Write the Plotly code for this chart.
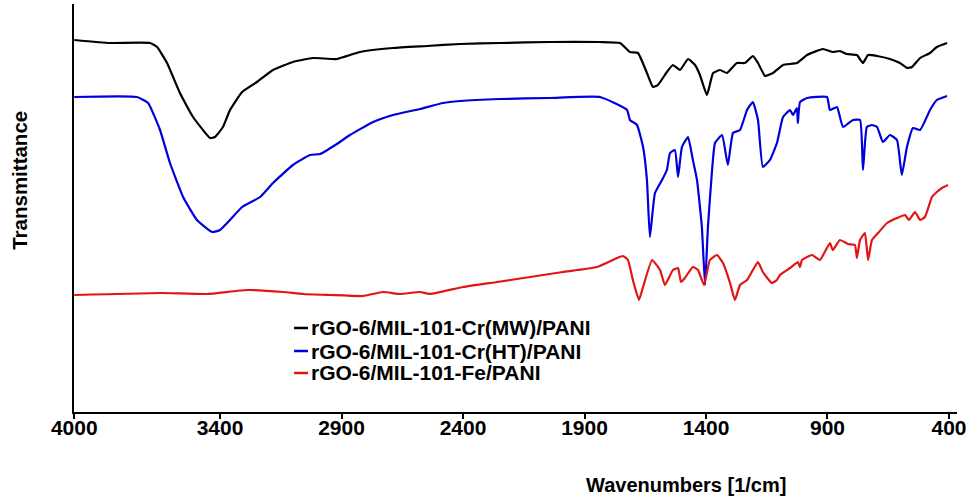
import plotly.graph_objects as go

# ---- Data (transmittance in arbitrary units) ----
mw_wn = [4000, 3853, 3688, 3659, 3618, 3565, 3511, 3441, 3421, 3388,
         3359, 3309, 3248, 3182, 3100, 3017, 2919, 2824, 2688, 2548,
         2412, 2248, 2042, 1836, 1754, 1713, 1680, 1643, 1618, 1598,
         1561, 1536, 1507, 1474, 1445, 1425, 1396, 1371, 1342, 1314,
         1273, 1240, 1207, 1186, 1157, 1124, 1083, 1026, 984, 919,
         878, 849, 820, 779, 754, 733, 696, 643, 602, 573,
         552, 519, 478, 450, 408]
mw_t = [372, 369, 369, 365, 349, 319, 295, 274, 275, 285,
        302, 320, 330, 342, 350, 354, 353, 360, 364, 366,
        368, 369, 370, 370, 369, 360, 359, 339, 325, 327,
        340, 347, 342, 353, 347, 337, 317, 339, 342, 339,
        349, 349, 356, 349, 336, 339, 347, 349, 357, 363,
        360, 361, 358, 357, 349, 357, 356, 353, 349, 344,
        345, 354, 359, 365, 369]

ht_wn = [4000, 3742, 3696, 3647, 3606, 3552, 3495, 3433, 3400, 3359,
         3309, 3235, 3182, 3100, 3030, 2988, 2919, 2865, 2770, 2688,
         2577, 2482, 2412, 2248, 2042, 1836, 1725, 1713, 1684, 1659,
         1643, 1631, 1610, 1581, 1561, 1548, 1528, 1515, 1499, 1474,
         1454, 1437, 1417, 1404, 1392, 1375, 1363, 1334, 1310, 1289,
         1260, 1231, 1207, 1186, 1166, 1137, 1108, 1083, 1054, 1042,
         1026, 1022, 1013, 984, 902, 890, 861, 836, 795, 766,
         754, 738, 717, 696, 672, 643, 614, 594, 573, 548,
         519, 478, 450, 408]
ht_t = [315, 315, 309, 282, 249, 215, 192, 180, 182, 192,
        205, 215, 229, 247, 257, 258, 268, 277, 290, 297,
        303, 309, 311, 313, 314, 315, 302, 292, 287, 265,
        232, 175, 219, 232, 242, 259, 262, 235, 265, 275,
        252, 232, 185, 127, 185, 242, 269, 277, 247, 279,
        282, 302, 310, 292, 245, 252, 269, 295, 302, 297,
        304, 289, 310, 314, 315, 302, 305, 285, 292, 292,
        242, 285, 287, 285, 270, 277, 272, 237, 265, 284,
        282, 302, 312, 316]

fe_wn = [4000, 3647, 3453, 3289, 3141, 3058, 2947, 2812, 2729, 2659,
         2577, 2536, 2400, 2260, 2124, 1989, 1849, 1766, 1742, 1721,
         1701, 1676, 1659, 1622, 1589, 1569, 1536, 1515, 1503, 1487,
         1454, 1433, 1408, 1384, 1355, 1330, 1301, 1281, 1260, 1231,
         1207, 1186, 1166, 1129, 1108, 1096, 1054, 1022, 1013, 1005,
         964, 931, 890, 878, 849, 816, 787, 779, 766, 746,
         733, 717, 692, 655, 614, 581, 565, 540, 519, 499,
         470, 450, 429, 404]
fe_t = [117, 119, 118, 122, 120, 118, 117, 116, 120, 118,
        120, 118, 125, 130, 135, 140, 145, 154, 156, 152,
        132, 112, 125, 152, 142, 127, 142, 144, 130, 134,
        145, 142, 127, 152, 157, 149, 129, 112, 127, 132,
        142, 150, 140, 129, 132, 137, 144, 150, 145, 152,
        157, 152, 169, 162, 172, 168, 167, 154, 172, 179,
        152, 172, 179, 189, 194, 197, 192, 200, 192, 195,
        215, 220, 224, 227]

series_names = ["rGO-6/MIL-101-Cr(MW)/PANI",
                "rGO-6/MIL-101-Cr(HT)/PANI",
                "rGO-6/MIL-101-Fe/PANI"]
series_colors = ["#000000", "#0000dd", "#e31414"]

tick_vals = [4000, 3400, 2900, 2400, 1900, 1400, 900, 400]
tick_text = ["4000", "3400", "2900", "2400", "1900", "1400", "900", "400"]

FONT = "Liberation Sans, Arial, sans-serif"

fig = go.Figure()
for xs, ys, name, col in zip([mw_wn, ht_wn, fe_wn], [mw_t, ht_t, fe_t],
                             series_names, series_colors):
    fig.add_trace(go.Scatter(x=xs, y=ys, mode="lines", name=name,
                             showlegend=False,
                             line=dict(color=col, width=2.2, shape="spline",
                                       smoothing=0.4)))

# compact legend (short line samples, tight rows) drawn in paper coordinates
legend_rows_y = [0.2059, 0.1495, 0.0956]
annotations = []
shapes = []
for name, col, yy in zip(series_names, series_colors, legend_rows_y):
    shapes.append(dict(type="line", xref="paper", yref="paper",
                       x0=0.2492, x1=0.2650, y0=yy, y1=yy,
                       line=dict(color=col, width=2.5)))
    annotations.append(dict(text=name, xref="paper", yref="paper",
                            x=0.2663, y=yy, xanchor="left", yanchor="middle",
                            showarrow=False,
                            font=dict(family=FONT, size=21, color="black",
                                      weight="bold")))

annotations += [
    dict(text="Wavenumbers [1/cm]", xref="paper", yref="paper",
         x=0.693, y=-0.179, xanchor="center", yanchor="middle",
         showarrow=False,
         font=dict(family=FONT, size=20, color="black", weight="bold")),
    dict(text="Transmittance", xref="paper", yref="paper",
         x=-0.0612, y=0.569, xanchor="center", yanchor="middle",
         textangle=-90, showarrow=False,
         font=dict(family=FONT, size=20.5, color="black", weight="bold")),
]

fig.update_layout(
    width=978, height=497,
    margin=dict(l=74, r=21, t=4, b=85),
    paper_bgcolor="white", plot_bgcolor="white",
    font=dict(family=FONT, size=21, color="black", weight="bold"),
    showlegend=False,
    xaxis=dict(range=[4001, 367], tickvals=tick_vals, ticktext=tick_text,
               showline=True, linecolor="black", linewidth=2,
               ticks="outside", ticklen=5, tickwidth=2, tickcolor="black",
               ticklabelstandoff=-9,
               showgrid=False, zeroline=False,
               tickfont=dict(family=FONT, size=21, color="black", weight="bold")),
    yaxis=dict(range=[0, 408], showline=True, linecolor="black", linewidth=2,
               showticklabels=False, ticks="", showgrid=False, zeroline=False),
    annotations=annotations,
    shapes=shapes,
)

fig.write_html("out.html")
